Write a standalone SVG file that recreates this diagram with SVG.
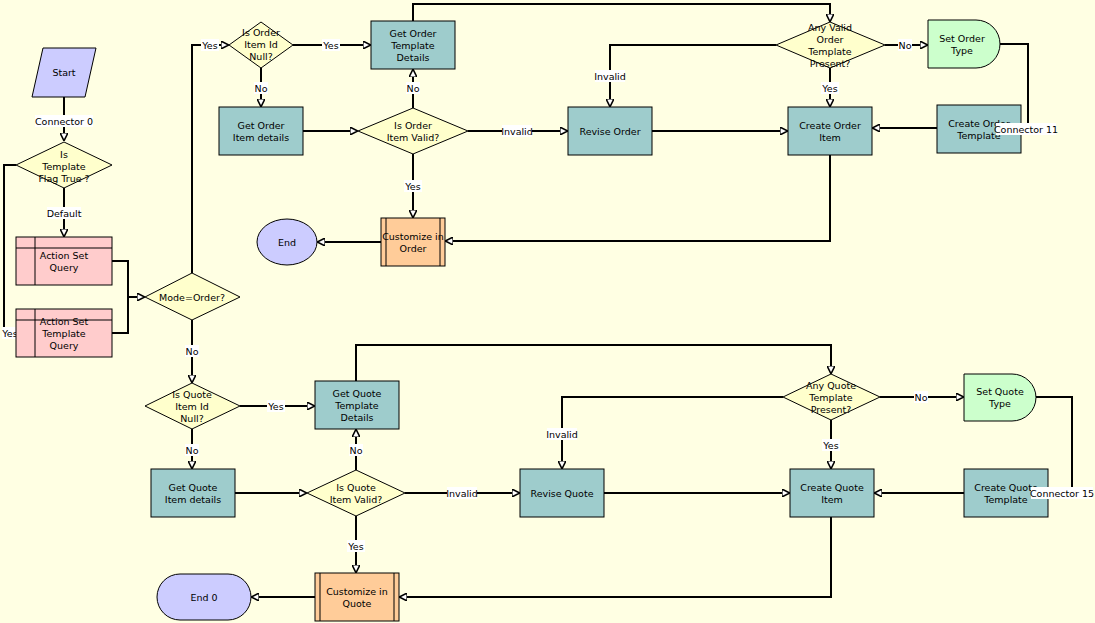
<svg xmlns="http://www.w3.org/2000/svg" width="1095" height="623" viewBox="0 0 1095 623">
<style>
text{font-family:"DejaVu Sans","Liberation Sans",sans-serif;font-size:9.5px;fill:#000;text-anchor:middle}
.t{fill:#9ECCCC;stroke:#000;stroke-width:1}
.d{fill:#FFFFCC;stroke:#000;stroke-width:1}
.p{fill:#FFCCCC;stroke:#000;stroke-width:1}
.o{fill:#FFCC99;stroke:#000;stroke-width:1}
.u{fill:#CCCCFF;stroke:#000;stroke-width:1}
.g{fill:#CCFFCC;stroke:#000;stroke-width:1}
.c path{fill:none;stroke:#000;stroke-width:2}
.lb{fill:#fff}
</style>
<defs>
<marker id="a" viewBox="0 0 10 10" refX="9" refY="5" markerWidth="4" markerHeight="4" orient="auto" markerUnits="strokeWidth">
<path d="M0,0 L10,5 L0,10 Z" fill="#fff" stroke="#000" stroke-width="2"/>
</marker>
</defs>
<rect width="1095" height="623" fill="#FFFFE3"/>
<g class="c">
<path d="M64,97 V140" marker-end="url(#a)"/>
<path d="M64,188 V236" marker-end="url(#a)"/>
<path d="M16,165 H4 V333 H16"/>
<path d="M112,261 H128 V333 H112 M128,297 H144" marker-end="url(#a)"/>
<path d="M192,273 V45 H228" marker-end="url(#a)"/>
<path d="M293,45 H370" marker-end="url(#a)"/>
<path d="M261,68 V106" marker-end="url(#a)"/>
<path d="M303,131 H357" marker-end="url(#a)"/>
<path d="M413,108 V70" marker-end="url(#a)"/>
<path d="M468,131 H567" marker-end="url(#a)"/>
<path d="M413,154 V217" marker-end="url(#a)"/>
<path d="M381,242 H318" marker-end="url(#a)"/>
<path d="M413,21 V4 H830 V21" marker-end="url(#a)"/>
<path d="M776,45 H610 V106" marker-end="url(#a)"/>
<path d="M885,45 H927" marker-end="url(#a)"/>
<path d="M830,68 V106" marker-end="url(#a)"/>
<path d="M652,131 H787" marker-end="url(#a)"/>
<path d="M937,128 H873" marker-end="url(#a)"/>
<path d="M1000,44 H1028 V128 H1021"/>
<path d="M830,155 V241 H446" marker-end="url(#a)"/>
<path d="M192,320 V382" marker-end="url(#a)"/>
<path d="M240,406 H314" marker-end="url(#a)"/>
<path d="M192,429 V468" marker-end="url(#a)"/>
<path d="M235,493 H306" marker-end="url(#a)"/>
<path d="M356,470 V430" marker-end="url(#a)"/>
<path d="M405,493 H519" marker-end="url(#a)"/>
<path d="M356,516 V572" marker-end="url(#a)"/>
<path d="M315,597 H252" marker-end="url(#a)"/>
<path d="M356,381 V345 H831 V373" marker-end="url(#a)"/>
<path d="M783,397 H562 V468" marker-end="url(#a)"/>
<path d="M880,397 H963" marker-end="url(#a)"/>
<path d="M831,420 V468" marker-end="url(#a)"/>
<path d="M604,493 H789" marker-end="url(#a)"/>
<path d="M964,493 H875" marker-end="url(#a)"/>
<path d="M1036,397 H1072 V493 H1048"/>
<path d="M831,517 V597 H400" marker-end="url(#a)"/>
</g>
<g id="labels">
<rect class="lb" x="35" y="115" width="58" height="12"/><text x="64" y="125">Connector 0</text>
<rect class="lb" x="47" y="207" width="34" height="12"/><text x="64" y="217">Default</text>
<rect class="lb" x="2" y="327" width="16" height="12"/><text x="10" y="337">Yes</text>
<rect class="lb" x="201" y="39" width="18" height="12"/><text x="210" y="49">Yes</text>
<rect class="lb" x="322" y="39" width="18" height="12"/><text x="331" y="49">Yes</text>
<rect class="lb" x="254" y="82" width="14" height="12"/><text x="261" y="92">No</text>
<rect class="lb" x="406" y="82" width="14" height="12"/><text x="413" y="92">No</text>
<rect class="lb" x="502" y="125" width="30" height="12"/><text x="517" y="135">Invalid</text>
<rect class="lb" x="404" y="180" width="18" height="12"/><text x="413" y="190">Yes</text>
<rect class="lb" x="595" y="70" width="30" height="12"/><text x="610" y="80">Invalid</text>
<rect class="lb" x="898" y="39" width="14" height="12"/><text x="905" y="49">No</text>
<rect class="lb" x="821" y="82" width="18" height="12"/><text x="830" y="92">Yes</text>
<rect class="lb" x="185" y="345" width="14" height="12"/><text x="192" y="355">No</text>
<rect class="lb" x="267" y="400" width="18" height="12"/><text x="276" y="410">Yes</text>
<rect class="lb" x="185" y="444" width="14" height="12"/><text x="192" y="454">No</text>
<rect class="lb" x="349" y="444" width="14" height="12"/><text x="356" y="454">No</text>
<rect class="lb" x="447" y="487" width="30" height="12"/><text x="462" y="497">Invalid</text>
<rect class="lb" x="347" y="540" width="18" height="12"/><text x="356" y="550">Yes</text>
<rect class="lb" x="547" y="428" width="30" height="12"/><text x="562" y="438">Invalid</text>
<rect class="lb" x="914" y="391" width="14" height="12"/><text x="921" y="401">No</text>
<rect class="lb" x="822" y="439" width="18" height="12"/><text x="831" y="449">Yes</text>
</g>
<g id="start"><path class="u" d="M43,48 H96 L85,97 H32 Z"/><text x="64" y="76">Start</text></g>
<g id="flag"><path class="d" d="M16,165 L64,142 L112,165 L64,188 Z"/><text x="64" y="158">Is</text><text x="64" y="170">Template</text><text x="64" y="182">Flag True ?</text></g>
<g id="asq"><rect class="p" x="16" y="237" width="96" height="48"/><path d="M16,248 H112 M35,237 V285" stroke="#000" fill="none"/><text x="64" y="259">Action Set</text><text x="64" y="271">Query</text></g>
<g id="astq"><rect class="p" x="16" y="309" width="96" height="48"/><path d="M16,320 H112 M35,309 V357" stroke="#000" fill="none"/><text x="64" y="325">Action Set</text><text x="64" y="337">Template</text><text x="64" y="349">Query</text></g>
<g id="mode"><path class="d" d="M145,297 L192,273 L240,297 L192,320 Z"/><text x="192" y="301">Mode=Order?</text></g>
<g id="oidnull"><path class="d" d="M229,45 L261,22 L293,45 L261,68 Z"/><text x="261" y="36">Is Order</text><text x="261" y="48">Item Id</text><text x="261" y="60">Null?</text></g>
<g id="ogtd"><rect class="t" x="371" y="21" width="84" height="48"/><text x="413" y="37">Get Order</text><text x="413" y="49">Template</text><text x="413" y="61">Details</text></g>
<g id="ogid"><rect class="t" x="219" y="107" width="84" height="48"/><text x="261" y="129">Get Order</text><text x="261" y="141">Item details</text></g>
<g id="ovalid"><path class="d" d="M358,131 L413,108 L468,131 L413,154 Z"/><text x="413" y="129">Is Order</text><text x="413" y="141">Item Valid?</text></g>
<g id="orev"><rect class="t" x="568" y="107" width="84" height="48"/><text x="610" y="135">Revise Order</text></g>
<g id="ocust"><rect class="o" x="381" y="218" width="64" height="48"/><path d="M386,218 V266 M440,218 V266" stroke="#000"/><text x="413" y="240">Customize in</text><text x="413" y="252">Order</text></g>
<g id="oend"><ellipse class="u" cx="287" cy="242" rx="30" ry="23"/><text x="287" y="246">End</text></g>
<g id="oany"><path class="d" d="M776,45 L830,22 L885,45 L830,68 Z"/><text x="830" y="31">Any Valid</text><text x="830" y="43">Order</text><text x="830" y="55">Template</text><text x="830" y="67">Present?</text></g>
<g id="oset"><path class="g" d="M928,20 H976 A24,24 0 0 1 976,68 H928 Z"/><text x="962" y="42">Set Order</text><text x="962" y="54">Type</text></g>
<g id="ocoi"><rect class="t" x="788" y="107" width="84" height="48"/><text x="830" y="129">Create Order</text><text x="830" y="141">Item</text></g>
<g id="ocot"><rect class="t" x="937" y="105" width="84" height="48"/><text x="979" y="127">Create Order</text><text x="979" y="139">Template</text></g>
<g id="c11"><rect class="lb" x="996" y="123" width="60" height="12"/><text x="1026" y="133">Connector 11</text></g>
<g id="qidnull"><path class="d" d="M145,406 L192,383 L240,406 L192,429 Z"/><text x="192" y="398">Is Quote</text><text x="192" y="410">Item Id</text><text x="192" y="422">Null?</text></g>
<g id="qgtd"><rect class="t" x="315" y="381" width="84" height="48"/><text x="357" y="397">Get Quote</text><text x="357" y="409">Template</text><text x="357" y="421">Details</text></g>
<g id="qgid"><rect class="t" x="151" y="469" width="84" height="48"/><text x="193" y="491">Get Quote</text><text x="193" y="503">Item details</text></g>
<g id="qvalid"><path class="d" d="M307,493 L356,470 L405,493 L356,516 Z"/><text x="356" y="491">Is Quote</text><text x="356" y="503">Item Valid?</text></g>
<g id="qrev"><rect class="t" x="520" y="469" width="84" height="48"/><text x="562" y="497">Revise Quote</text></g>
<g id="qcust"><rect class="o" x="315" y="573" width="84" height="48"/><path d="M320,573 V621 M394,573 V621" stroke="#000"/><text x="357" y="595">Customize in</text><text x="357" y="607">Quote</text></g>
<g id="qend"><path class="u" d="M180,574 H228 A23,23 0 0 1 228,620 H180 A23,23 0 0 1 180,574 Z"/><text x="204" y="601">End 0</text></g>
<g id="qany"><path class="d" d="M783,397 L831,374 L880,397 L831,420 Z"/><text x="831" y="389">Any Quote</text><text x="831" y="401">Template</text><text x="831" y="413">Present?</text></g>
<g id="qset"><path class="g" d="M964,374 H1012 A24,23.5 0 0 1 1012,421 H964 Z"/><text x="1000" y="395">Set Quote</text><text x="1000" y="407">Type</text></g>
<g id="qcqi"><rect class="t" x="790" y="469" width="84" height="48"/><text x="832" y="491">Create Quote</text><text x="832" y="503">Item</text></g>
<g id="qcqt"><rect class="t" x="964" y="469" width="84" height="48"/><text x="1006" y="491">Create Quote</text><text x="1006" y="503">Template</text></g>
<g id="c15"><rect class="lb" x="1031" y="487" width="62" height="12"/><text x="1062" y="497">Connector 15</text></g>
</svg>
